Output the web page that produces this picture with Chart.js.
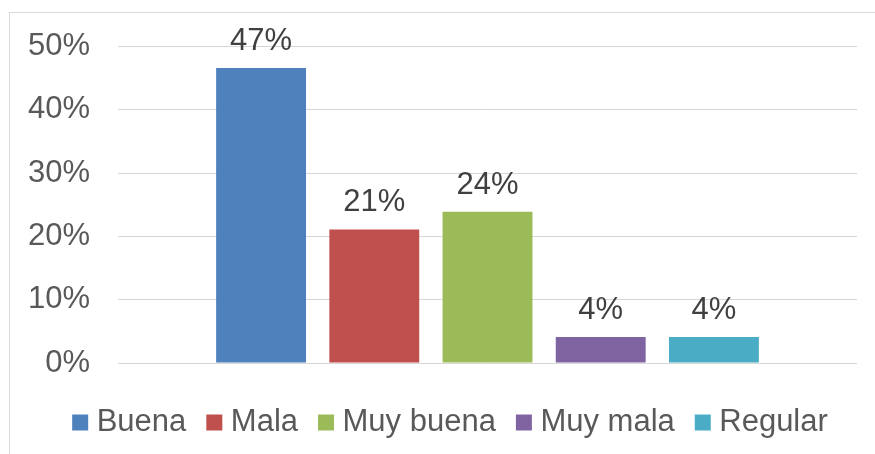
<!DOCTYPE html>
<html>
<head>
<meta charset="utf-8">
<script src="https://cdn.jsdelivr.net/npm/chart.js@4.4.1/dist/chart.umd.min.js"></script>
<style>
  html, body { margin: 0; padding: 0; background: #fff; }
  #wrap { position: relative; width: 875px; height: 454px; overflow: hidden; }
  #frame { position: absolute; left: 9px; top: 12px; width: 900px; height: 500px; border: 1px solid #d9d9d9; }
  #chart { position: absolute; left: 0; top: 0; }
</style>
</head>
<body>
<div id="wrap">
  <div id="frame"></div>
  <canvas id="chart" width="875" height="454"></canvas>
</div>
<script>
const categories = ['Buena', 'Mala', 'Muy buena', 'Muy mala', 'Regular'];
const values = [46.6, 21.1, 23.9, 4.1, 4.1];
const colors = ['#4f81bd', '#c0504d', '#9bbb59', '#8064a2', '#4bacc6'];
const yTicks = [0, 10, 20, 30, 40, 50];

const FONT = "'Liberation Sans', Arial, sans-serif";

// value labels above each bar
const barLabels = {
  id: 'barLabels',
  afterDatasetsDraw(chart) {
    const ctx = chart.ctx;
    ctx.save();
    ctx.font = '31px ' + FONT;
    ctx.fillStyle = '#404040';
    ctx.textAlign = 'center';
    ctx.textBaseline = 'alphabetic';
    chart.data.datasets.forEach((ds, i) => {
      const bar = chart.getDatasetMeta(i).data[0];
      ctx.fillText(Math.round(ds.data[0]) + '%', bar.x, bar.y - 18);
    });
    ctx.restore();
  }
};

// legend in the original sits a bit right of centre
const legendShift = {
  id: 'legendShift',
  afterLayout(chart) { chart.legend.left += 50; }
};

const ctx = document.getElementById('chart').getContext('2d');
const chart = new Chart(ctx, {
  type: 'bar',
  data: {
    labels: [''],
    datasets: categories.map((name, i) => ({
      label: name,
      data: [values[i]],
      backgroundColor: colors[i],
      borderWidth: 0,
      categoryPercentage: 0.766,
      barPercentage: 0.794
    }))
  },
  options: {
    responsive: false,
    animation: false,
    layout: { padding: { left: 0, right: 18, top: 43, bottom: 6 } },
    plugins: {
      legend: {
        position: 'bottom',
        title: { display: true, text: '', font: { size: 10 }, padding: { top: 5, bottom: 0 } },
        labels: {
          color: '#595959',
          font: { family: FONT, size: 31 },
          usePointStyle: true,
          pointStyle: 'rect',
          boxWidth: 2,
          boxHeight: 16,
          padding: 27
        }
      },
      tooltip: { enabled: false }
    },
    scales: {
      x: { display: false },
      y: {
        min: 0,
        max: 50,
        afterFit: (scale) => { scale.width = 118; },
        afterBuildTicks: (scale) => { scale.ticks = yTicks.map(v => ({ value: v })); },
        border: { display: false },
        grid: { color: '#d6d6d6', lineWidth: 1, drawTicks: false },
        ticks: {
          padding: 28,
          color: '#595959',
          font: { family: FONT, size: 31 },
          callback: (v) => v + '%'
        }
      }
    }
  },
  plugins: [barLabels, legendShift]
});
</script>
</body>
</html>
